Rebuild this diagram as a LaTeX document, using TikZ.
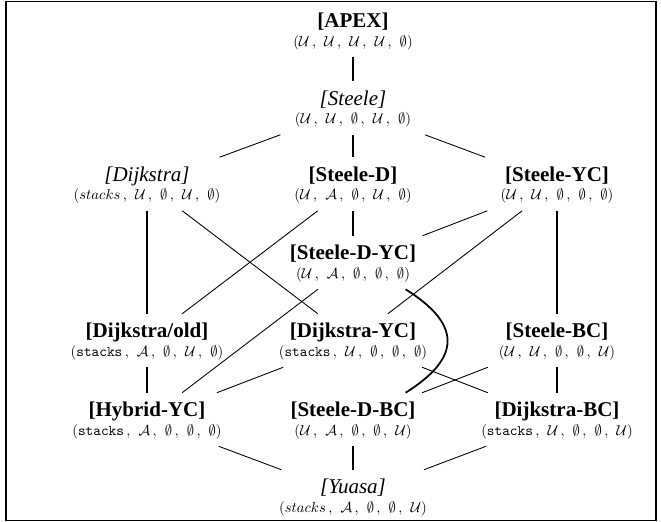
\documentclass[tikz,border=0pt]{standalone}
\usepackage{fontspec}
\setmainfont{Liberation Serif}

\newcommand{\ttlb}[1]{{\fontsize{14.4}{13}\selectfont\bfseries[#1]}}
\newcommand{\ttli}[1]{{\fontsize{14.4}{13}\selectfont\itshape[#1]}}
\newcommand{\quint}[5]{$(#1\,,\:\,#2\,,\:\,#3\,,\:\,#4\,,\:\,#5)$}

\begin{document}
\begin{tikzpicture}
	[x=0.685pt, y=-0.685pt,
	lattice/.style={rectangle, inner sep=0pt, minimum width=109.6pt,
		text height=29.1pt, text depth=7.2pt, align=center,
		font=\fontsize{10}{13}\selectfont},
	rung/.style={line width=1.1pt},
	link/.style={line width=0.6pt}]

	% Page and frame
	\useasboundingbox (0,0) rectangle (661,522);
	\draw[line width=1pt] (6,1.5) rectangle (656,520.5);

	% Create nodes
	\node[lattice] (apex) at (353,30.5)
		{\ttlb{APEX}\\\quint{\mathcal{U}}{\mathcal{U}}{\mathcal{U}}{\mathcal{U}}{\emptyset}};
	\node[lattice] (steele) at (353,108)
		{\ttli{Steele}\\\quint{\mathcal{U}}{\mathcal{U}}{\emptyset}{\mathcal{U}}{\emptyset}};

	\node[lattice] (dijkstra) at (147,184)
		{\ttli{Dijkstra}\\\quint{stacks}{\mathcal{U}}{\emptyset}{\mathcal{U}}{\emptyset}};
	\node[lattice] (steeled) at (353,184)
		{\ttlb{Steele-D}\\\quint{\mathcal{U}}{\mathcal{A}}{\emptyset}{\mathcal{U}}{\emptyset}};
	\node[lattice] (steeleyc) at (557,184)
		{\ttlb{Steele-YC}\\\quint{\mathcal{U}}{\mathcal{U}}{\emptyset}{\emptyset}{\emptyset}};

	\node[lattice] (steeledyc) at (353,262.5)
		{\ttlb{Steele-D-YC}\\\quint{\mathcal{U}}{\mathcal{A}}{\emptyset}{\emptyset}{\emptyset}};

	\node[lattice] (dijkold) at (147,340.5)
		{\ttlb{Dijkstra/old}\\\quint{\mathtt{stacks}}{\mathcal{A}}{\emptyset}{\mathcal{U}}{\emptyset}};
	\node[lattice] (dijkyc) at (353,340.5)
		{\ttlb{Dijkstra-YC}\\\quint{\mathtt{stacks}}{\mathcal{U}}{\emptyset}{\emptyset}{\emptyset}};
	\node[lattice] (steelebc) at (557,340.5)
		{\ttlb{Steele-BC}\\\quint{\mathcal{U}}{\mathcal{U}}{\emptyset}{\emptyset}{\mathcal{U}}};

	\node[lattice] (hybridyc) at (147,419.5)
		{\ttlb{Hybrid-YC}\\\quint{\mathtt{stacks}}{\mathcal{A}}{\emptyset}{\emptyset}{\emptyset}};
	\node[lattice] (steeledbc) at (353,419.5)
		{\ttlb{Steele-D-BC}\\\quint{\mathcal{U}}{\mathcal{A}}{\emptyset}{\emptyset}{\mathcal{U}}};
	\node[lattice] (dijkbc) at (557,419.5)
		{\ttlb{Dijkstra-BC}\\\quint{\mathtt{stacks}}{\mathcal{U}}{\emptyset}{\emptyset}{\mathcal{U}}};

	\node[lattice] (yuasa) at (353,496.5)
		{\ttli{Yuasa}\\\quint{stacks}{\mathcal{A}}{\emptyset}{\emptyset}{\mathcal{U}}};

	% Draw vertical links
	\foreach \a/\b in {apex/steele, steele/steeled, steeled/steeledyc,
		dijkstra/dijkold, steeleyc/steelebc, dijkold/hybridyc,
		steelebc/dijkbc, steeledbc/yuasa}
		\draw[rung] (\a) -- (\b);

	% Draw slanted links
	\foreach \a/\b in {steele/dijkstra, steele/steeleyc, dijkstra/dijkyc,
		steeled/dijkold, steeleyc/steeledyc, steeleyc/dijkyc,
		steeledyc/hybridyc, dijkyc/hybridyc, dijkyc/dijkbc,
		steelebc/steeledbc, hybridyc/yuasa, dijkbc/yuasa}
		\draw[link] (\a) -- (\b);

	% Draw bypass
	\draw[line width=1.2pt] (steeledyc.-27) .. controls +(56,35) and +(56,-35) .. (steeledbc.27);
\end{tikzpicture}
\end{document}
